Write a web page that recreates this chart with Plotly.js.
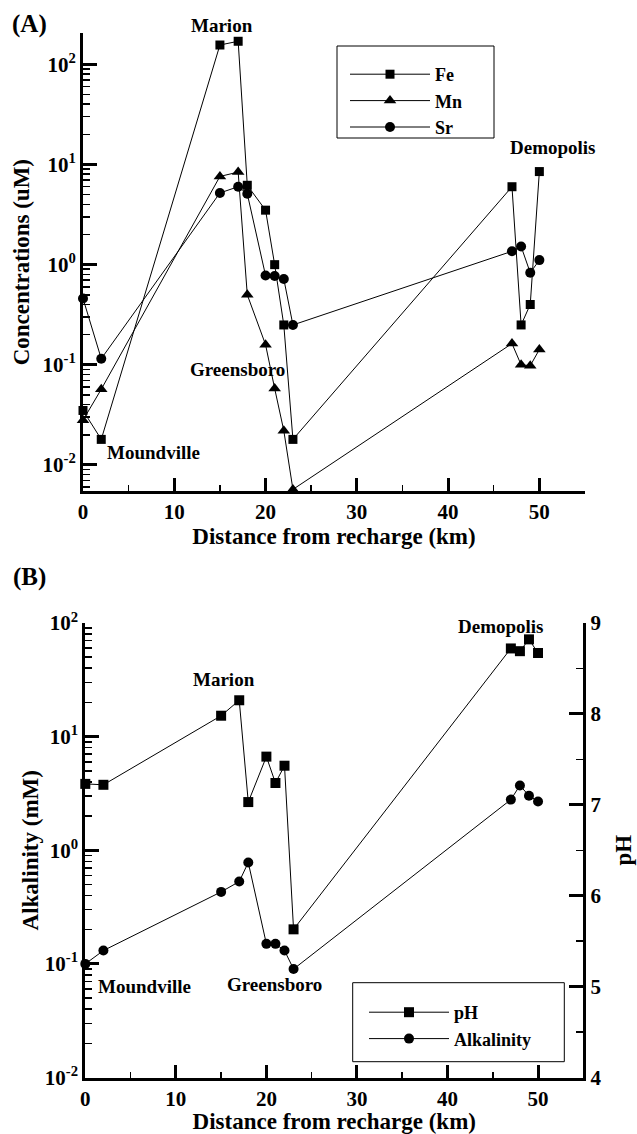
<!DOCTYPE html>
<html><head><meta charset="utf-8">
<script src="https://cdn.plot.ly/plotly-3.0.1.min.js"></script>
<style>html,body{margin:0;padding:0;background:#fff}#chart{width:637px;height:1134px}</style>
</head><body><div id="chart"></div>
<script>
// ---- data ----
const distanceKm   = [0, 2, 15, 17, 18, 20, 21, 22, 23, 47, 48, 49, 50];
const feUM         = [0.035, 0.018, 156, 170, 6.2, 3.5, 1.0, 0.25, 0.018, 6.0, 0.25, 0.40, 8.5];
const mnUM         = [0.028, 0.057, 7.6, 8.4, 0.50, 0.159, 0.058, 0.022, 0.0057, 0.163, 0.10, 0.098, 0.142];
const srUM         = [0.46, 0.115, 5.2, 6.0, 5.1, 0.78, 0.77, 0.72, 0.25, 1.36, 1.52, 0.83, 1.11];
const phValues     = [7.23, 7.22, 7.98, 8.15, 7.03, 7.53, 7.24, 7.43, 5.63, 8.72, 8.69, 8.82, 8.67];
const alkalinityMM = [0.10, 0.131, 0.43, 0.53, 0.78, 0.15, 0.15, 0.131, 0.090, 2.79, 3.72, 3.02, 2.69];
const logExponents = [-2, -1, 0, 1, 2];
const logTickText  = ['10<sup>-2</sup>', '10<sup>-1</sup>', '10<sup>0</sup>', '10<sup>1</sup>', '10<sup>2</sup>'];
const xTickVals    = [0, 10, 20, 30, 40, 50];
const phTickVals   = [4, 5, 6, 7, 8, 9];

// ---- layout helpers ----
const W = 637, H = 1134, ML = 83, MR = 52;
const px2x = p => (p - ML) / (W - ML - MR);
const py2y = p => 1 - p / H;
const FONT = 'Liberation Serif, Times New Roman, serif';
const bold = (size) => ({family: FONT, size: size, color: 'black', weight: 'bold'});

const logTickVals = logExponents.map(e => Math.pow(10, e));
const logMinor = [];
for (let e = -3; e <= 2; e++) for (let d = 2; d <= 9; d++) logMinor.push(d * Math.pow(10, e));

const common = {
  showline: true, linewidth: 3, linecolor: 'black', showgrid: false, zeroline: false,
  ticks: 'inside', tickwidth: 3, tickcolor: 'black', ticklen: 14, tickfont: bold(21)
};
const xCommon = Object.assign({}, common, {
  range: [0, 55], tickmode: 'array', tickvals: xTickVals, ticklen: 13,
  minor: {ticks: 'inside', ticklen: 6, tickwidth: 1.5, tickcolor: 'black', dtick: 5, tick0: 0}
});
const logCommon = Object.assign({}, common, {
  type: 'log', tickmode: 'array', tickvals: logTickVals, ticktext: logTickText,
  minor: {ticks: 'inside', ticklen: 7, tickwidth: 1.5, tickcolor: 'black', tickmode: 'array', tickvals: logMinor}
});

const line = {color: 'black', width: 1};
const traces = [
  {x: distanceKm, y: feUM, name: 'Fe', mode: 'lines+markers', line: line,
   marker: {symbol: 'square', size: 9, color: 'black'}, xaxis: 'x', yaxis: 'y', legend: 'legend', cliponaxis: false},
  {x: distanceKm, y: mnUM, name: 'Mn', mode: 'lines+markers', line: line,
   marker: {symbol: 'triangle-up', size: 11, color: 'black'}, xaxis: 'x', yaxis: 'y', legend: 'legend', cliponaxis: false},
  {x: distanceKm, y: srUM, name: 'Sr', mode: 'lines+markers', line: line,
   marker: {symbol: 'circle', size: 10, color: 'black'}, xaxis: 'x', yaxis: 'y', legend: 'legend', cliponaxis: false},
  {x: distanceKm, y: phValues, name: 'pH', mode: 'lines+markers', line: line,
   marker: {symbol: 'square', size: 10, color: 'black'}, xaxis: 'x2', yaxis: 'y3', legend: 'legend2', cliponaxis: false},
  {x: distanceKm, y: alkalinityMM, name: 'Alkalinity', mode: 'lines+markers', line: line,
   marker: {symbol: 'circle', size: 10, color: 'black'}, xaxis: 'x2', yaxis: 'y2', legend: 'legend2', cliponaxis: false}
];

const ann = (text, cx, cy, size) => ({text: text, x: px2x(cx), y: py2y(cy), xref: 'paper', yref: 'paper',
  xanchor: 'center', yanchor: 'middle', showarrow: false, font: bold(size || 19)});

const layout = {
  width: W, height: H, margin: {l: ML, r: MR, t: 0, b: 0},
  paper_bgcolor: 'white', plot_bgcolor: 'white', font: bold(19), hovermode: false, showlegend: true,
  xaxis: Object.assign({}, xCommon, {domain: [0, 1], anchor: 'y',
    title: {text: 'Distance from recharge (km)', font: bold(23), standoff: 4}}),
  yaxis: Object.assign({}, logCommon, {domain: [py2y(491), py2y(33.3)], anchor: 'x', range: [-2.26, 2.31],
    title: {text: 'Concentrations (uM)', font: bold(23), standoff: 7}}),
  xaxis2: Object.assign({}, xCommon, {domain: [px2x(85.3), px2x(583.3)], anchor: 'y2',
    title: {text: 'Distance from recharge (km)', font: bold(23), standoff: 8}}),
  yaxis2: Object.assign({}, logCommon, {domain: [py2y(1077.5), py2y(623)], anchor: 'x2', range: [-2, 2],
    title: {text: 'Alkalinity (mM)', font: bold(23), standoff: 0}}),
  yaxis3: Object.assign({}, common, {overlaying: 'y2', side: 'right', anchor: 'x2', range: [4, 9],
    tickmode: 'array', tickvals: phTickVals,
    minor: {ticks: 'inside', ticklen: 7, tickwidth: 1.5, tickcolor: 'black', dtick: 0.5, tick0: 0},
    title: {text: 'pH', font: bold(23), standoff: 15}}),
  legend: {x: px2x(345), y: py2y(56), xanchor: 'left', yanchor: 'top', bgcolor: 'rgba(0,0,0,0)',
    borderwidth: 0, font: bold(18), itemwidth: 80, tracegroupgap: 0},
  legend2: {x: px2x(364), y: py2y(994), xanchor: 'left', yanchor: 'top', bgcolor: 'rgba(0,0,0,0)',
    borderwidth: 0, font: bold(18), itemwidth: 80, tracegroupgap: 0},
  shapes: [
    {type: 'rect', xref: 'paper', yref: 'paper', x0: px2x(337), x1: px2x(494), y0: py2y(46), y1: py2y(138),
     line: {color: 'black', width: 1}, fillcolor: 'rgba(0,0,0,0)'},
    {type: 'rect', xref: 'paper', yref: 'paper', x0: px2x(352.7), x1: px2x(564.3), y0: py2y(982.7), y1: py2y(1061.7),
     line: {color: 'black', width: 1}, fillcolor: 'rgba(0,0,0,0)'}
  ],
  annotations: [
    ann('(A)', 29, 24, 25), ann('Marion', 222, 26), ann('Demopolis', 552.7, 147.7),
    ann('Greensboro', 237.5, 369.3), ann('Moundville', 153.5, 452.7),
    ann('(B)', 29, 577, 25), ann('Marion', 224, 679.3), ann('Demopolis', 500.8, 626.7),
    ann('Moundville', 144, 986.7), ann('Greensboro', 274, 984.3)
  ]
};

Plotly.newPlot('chart', traces, layout, {displayModeBar: false, staticPlot: true});
</script></body></html>
